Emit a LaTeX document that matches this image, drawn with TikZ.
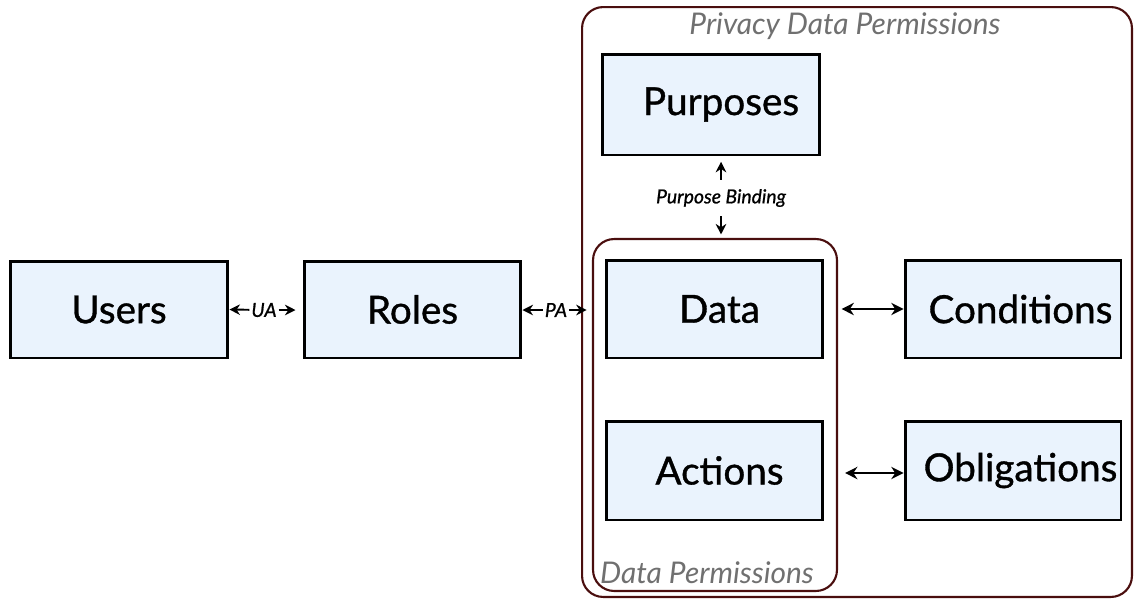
\documentclass[tikz,border=0pt]{standalone}
\usepackage{fontspec}
\setmainfont{Lato}
\newfontfamily\heavyfont{Lato}[FakeBold=0.9]
\usetikzlibrary{arrows.meta}
\definecolor{boxfill}{HTML}{EAF3FD}
\definecolor{frame}{HTML}{4A0E0E}
\definecolor{caption}{HTML}{707070}
\tikzset{
  entity/.style={draw=black, line width=1.7pt, fill=boxfill, inner sep=0pt,
    font=\heavyfont\fontsize{22}{26}\selectfont},
  group/.style={draw=frame, line width=1.2pt, rounded corners=12pt, inner sep=0pt},
  arr/.style={line width=1.1pt, -{Stealth[length=6pt,width=6pt]}},
  rel/.style={font=\heavyfont\itshape\fontsize{11}{13}\selectfont, inner sep=1pt},
  grouptitle/.style={text=caption, font=\itshape\fontsize{17}{20}\selectfont, inner sep=0pt}
}
\begin{document}
\begin{tikzpicture}[x=0.02cm, y=-0.02cm]
\useasboundingbox (0,0) rectangle (1135,599);

% permission containers
\node[group, minimum width=11cm, minimum height=11.8cm] (outer) at (857,302) {};
\node[group, minimum width=4.88cm, minimum height=7.04cm] (inner) at (715,415) {};
\node[grouptitle] (outertitle) at (845,26) {Privacy Data Permissions};
\node[grouptitle] (innertitle) at (707,573) {Data Permissions};

% entities
\node[entity, minimum width=4.36cm, minimum height=1.94cm] (users) at (119,309.5) {Users};
\node[entity, minimum width=4.34cm, minimum height=1.94cm] (roles) at (412.5,309.5) {Roles};
\node[entity, minimum width=4.36cm, minimum height=2.02cm] (purposes) at (711,104.5) {\hspace*{0.4cm}Purposes};
\node[entity, minimum width=4.34cm, minimum height=1.96cm] (data) at (714.5,309) {\hspace*{0.2cm}Data};
\node[entity, minimum width=4.34cm, minimum height=1.98cm] (actions) at (714.5,470.5) {\hspace*{0.2cm}Actions};
\node[entity, minimum width=4.32cm, minimum height=1.96cm] (conditions) at (1013,309) {\hspace*{0.3cm}Conditions};
\node[entity, minimum width=4.32cm, minimum height=1.98cm] (obligations) at (1013,470.5) {\hspace*{0.3cm}Obligations};

% relations
\node[rel] (ua) at (264,310) {UA};
\draw[arr] (ua) -- (users.east);
\draw[arr] (ua) -- ([xshift=-4pt]roles.west |- ua);

\node[rel] (pa) at (556,310) {PA};
\draw[arr] (pa) -- (roles.east |- pa);
\draw[arr] (pa) -- ([xshift=-3pt]inner.west |- pa);

\node[rel] (pb) at (721,198) {Purpose Binding};
\draw[arr] ([yshift=4pt]pb.north) -- ([yshift=-3pt]purposes.south -| pb);
\draw[arr] ([yshift=-4pt]pb.south) -- ([yshift=2pt]inner.north -| pb);

\draw[arr, {Stealth[length=7pt,width=7pt]}-{Stealth[length=7pt,width=7pt]}]
  ([xshift=2pt]inner.east |- data) -- (conditions.west |- data);
\draw[arr, {Stealth[length=7pt,width=7pt]}-{Stealth[length=7pt,width=7pt]}]
  ([xshift=4pt]inner.east |- 0,473) -- (obligations.west |- 0,473);
\end{tikzpicture}
\end{document}
